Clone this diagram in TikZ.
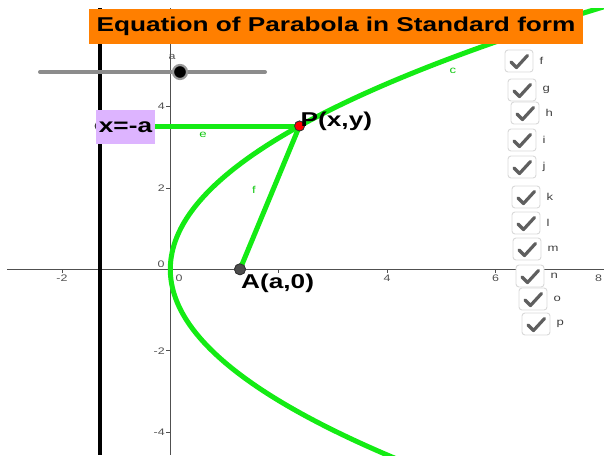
\documentclass[tikz,border=0pt]{standalone}
\usepackage{fontspec}
\setmainfont{Liberation Sans}
\newfontfamily\ggb[FakeStretch=1.31]{Liberation Sans}
\definecolor{ggorange}{RGB}{255,127,0}
\definecolor{lav}{RGB}{221,180,255}
\definecolor{ggreen}{RGB}{20,235,20}
\definecolor{axgray}{RGB}{80,80,80}
\definecolor{chk}{RGB}{95,95,95}
\begin{document}
\begin{tikzpicture}[x=1pt,y=-1pt,
  big/.style={font=\ggb\bfseries\fontsize{20}{22}\selectfont, inner sep=0},
  tick/.style={font=\ggb\fontsize{9.5}{10}\selectfont, text=axgray, inner sep=0},
  glabel/.style={font=\ggb\fontsize{10}{11}\selectfont, text=ggreen!85!black, inner sep=0},
  gline/.style={ggreen, line width=5pt},
  cbox/.style={draw=black!15, line width=0.9pt, rounded corners=3pt, fill=white, minimum width=28pt, minimum height=22pt, inner sep=0},
  checkmk/.style={chk, line width=3.2pt, line cap=round, line join=round},
  cblabel/.style={font=\ggb\fontsize{10}{11}\selectfont, text=black!75, inner sep=0},
  ptdot/.style={circle, inner sep=0, minimum size=10pt, draw=black!80, line width=0.8pt}]
\useasboundingbox (0,0) rectangle (604,455);
% graphics view
\begin{scope}
\clip (7,8) rectangle (604,455);
% axes
\coordinate (xl) at (7,269.3); \coordinate (xr) at (604,269.3);
\coordinate (yt) at (170.3,8); \coordinate (yb) at (170.3,455);
\draw[axgray, line width=0.9pt] (xl) -- (xr);
\draw[axgray, line width=0.9pt] (yt) -- (yb);
% ticks and labels
\foreach \u/\t in {-2/-2, 4/4, 6/6}{
  \draw[axgray, line width=0.8pt] ({170.3+54.2*\u},269.3) -- ++(0,4);
  \node[tick] at ({170.3+54.2*\u},278.5) {\t};
}
\draw[axgray, line width=0.8pt] ({170.3+54.2*2},269.3) -- ++(0,4);
\draw[axgray, line width=0.8pt] ({170.3+54.2*8},269.3) -- ++(0,4);
\node[tick] (t8) at (598.5,278.5) {8};
\foreach \v/\t in {4/4, 2/2, -2/-2, -4/-4}{
  \draw[axgray, line width=0.8pt] (170.3,{269.3-40.7*\v}) -- ++(-4,0);
  \node[tick, anchor=east] at (165,{269.3-40.7*\v}) {\t};
}
\node[tick] (o1) at (161,264) {0};
\node[tick] (o2) at (179,278.5) {0};
% directrix
\coordinate (dt) at (100,8); \coordinate (db) at (100,455);
\draw[black, line width=4pt] (dt) -- (db);
% parabola
\draw[gline] plot[domain=-4.7:6.6, samples=120, smooth] ({170.3+10.423*\x*\x},{269.3-40.7*\x});
\end{scope}
% points and segments
\coordinate (D) at (100,126);
\node[ptdot, fill=black!70] (Dp) at (D) {};
\node[ptdot] (P) at (299.5,126) {};
\node[ptdot, fill=black!70, minimum size=11pt] (A) at (240,269.3) {};
\draw[gline] (D) -- (P.center);
\draw[gline] (A.center) -- (P.center);
\node[ptdot, fill=red] (P2) at (P) {};
\node[ptdot, fill=black!70, minimum size=11pt] (A2) at (A) {};
\node[big, anchor=base west] (Plab) at (300.5,126.5) {P(x,y)};
\node[big, anchor=base west] (Alab) at (241,288.3) {A(a,0)};
\node[glabel] (le) at (203,135) {e};
\node[glabel] (lf) at (254,190) {f};
\node[glabel] (lc) at (453,71) {c};
% slider
\coordinate (s1) at (40,72); \coordinate (s2) at (265,72);
\draw[black!45, line width=4pt, line cap=round] (s1) -- (s2);
\node[circle, fill=black, draw=black!40, line width=2.2pt, minimum size=14pt, inner sep=0] (knob) at (180,72) {};
\node[tick] (la) at (172,57) {a};
% title
\node[big, fill=ggorange, minimum width=494pt, minimum height=35pt] (title) at (336,26.5) {Equation of Parabola in Standard form};
% x=-a box
\node[big, fill=lav, minimum width=59pt, minimum height=34pt] (dlab) at (125.5,127) {x=-a};
% checkboxes
\foreach \cx/\cy/\lab in {519/61/f, 522/90/g, 525/113/h, 522/140/i, 522/167/j, 526/197/k, 526/223/l, 527/249/m, 530/276/n, 533/299/o, 536/324/p}{
  \node[cbox] (cb\lab) at (\cx,\cy) {};
  \draw[checkmk] ([shift={(-8,1)}]cb\lab.center) -- ++(5.5,5.5) -- ++(11,-12);
  \node[cblabel, anchor=west] (lb\lab) at ([xshift=6pt]cb\lab.east) {\lab};
}
\end{tikzpicture}
\end{document}
